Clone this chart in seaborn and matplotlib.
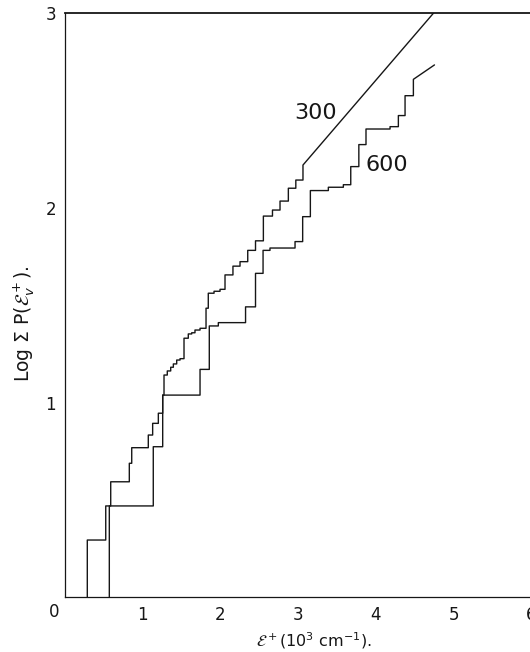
"""Cumulative state count, log sum P(E+_v) against E+ for two temperatures."""

import matplotlib

matplotlib.use("Agg")
import matplotlib.pyplot as plt
import seaborn as sns

# step edges (10^3 cm^-1) and the log value reached at each edge
E_300 = [0.293, 0.530, 0.594, 0.833, 0.864, 1.077, 1.133, 1.206, 1.262, 1.279,
         1.321, 1.365, 1.399, 1.442, 1.485, 1.536, 1.591, 1.635, 1.677, 1.742,
         1.819, 1.848, 1.922, 1.999, 2.063, 2.165, 2.256, 2.355, 2.455, 2.556,
         2.673, 2.770, 2.877, 2.973, 3.065]
LOG_300 = [0.294, 0.469, 0.593, 0.688, 0.768, 0.833, 0.893, 0.945, 1.038, 1.141,
           1.162, 1.181, 1.198, 1.218, 1.225, 1.330, 1.352, 1.358, 1.372, 1.381,
           1.484, 1.561, 1.571, 1.581, 1.655, 1.700, 1.723, 1.781, 1.830, 1.957,
           1.988, 2.034, 2.100, 2.142, 2.219]
TAIL_300 = (4.745, 3.0)  # smooth continuation above the last step

E_600 = [0.576, 1.141, 1.262, 1.742, 1.861, 1.977, 2.327, 2.455, 2.552, 2.641,
         2.963, 3.061, 3.160, 3.391, 3.584, 3.679, 3.783, 3.875, 4.184, 4.291,
         4.377, 4.484]
LOG_600 = [0.469, 0.773, 1.038, 1.170, 1.393, 1.410, 1.491, 1.663, 1.781, 1.793,
           1.826, 1.954, 2.088, 2.105, 2.118, 2.211, 2.324, 2.404, 2.416, 2.473,
           2.575, 2.659]
TAIL_600 = (4.755, 2.733)

X_TICKS = [1, 2, 3, 4, 5, 6]
Y_TICKS = [1, 2, 3]

INK = "#161616"


def step_path(edges, values, tail):
    """Staircase vertices starting from zero, ending with a straight tail."""
    xs, ys = [edges[0]], [0.0]
    prev = 0.0
    for e, v in zip(edges, values):
        xs += [e, e]
        ys += [prev, v]
        prev = v
    xs.append(tail[0])
    ys.append(tail[1])
    return xs, ys


def main() -> None:
    sns.set_style("white")
    plt.rcParams["font.family"] = ["DejaVu Sans"]
    plt.rcParams["mathtext.fontset"] = "dejavusans"

    fig = plt.figure(figsize=(5.30, 6.52), dpi=100)
    ax = fig.add_axes([0.1217, 0.0839, 0.8955, 0.8963])

    for edges, values, tail in ((E_300, LOG_300, TAIL_300), (E_600, LOG_600, TAIL_600)):
        xs, ys = step_path(edges, values, tail)
        sns.lineplot(x=xs, y=ys, estimator=None, sort=False, color=INK,
                     linewidth=1.0, ax=ax)

    ax.set_xlim(0, 6.1)
    ax.set_ylim(0, 3)

    ax.set_xticks(X_TICKS)
    ax.set_xticklabels([str(t) for t in X_TICKS])
    ax.set_yticks(Y_TICKS)
    ax.set_yticklabels([str(t) for t in Y_TICKS])
    ax.tick_params(axis="x", direction="in", length=8.5, width=0.8, pad=6,
                   labelsize=12, colors=INK)
    ax.tick_params(axis="y", direction="in", length=10, width=0.8, pad=6,
                   labelsize=12, colors=INK)

    for side in ("left", "bottom"):
        ax.spines[side].set_color(INK)
        ax.spines[side].set_linewidth(0.9)
    ax.spines["top"].set_color(INK)
    ax.spines["top"].set_linewidth(1.3)
    ax.spines["right"].set_visible(False)

    # shared origin label sits at the corner
    ax.annotate("0", xy=(0, 0), xytext=(-7.5, -10.5), textcoords="offset points",
                ha="center", va="center", fontsize=12, color=INK)

    ax.text(3.233, 2.485, "300", fontsize=16, ha="center", va="center", color=INK)
    ax.text(4.146, 2.220, "600", fontsize=16, ha="center", va="center", color=INK)

    ax.set_xlabel(r"$\mathcal{E}^+$(10$^3$ cm$^{-1}$).", fontsize=11.5, color=INK)
    ax.xaxis.set_label_coords(0.5263, -0.0565)
    ax.set_ylabel(r"Log $\Sigma$ P($\mathcal{E}^+_v$).", fontsize=13.5, color=INK)
    ax.yaxis.label.set_va("center")
    ax.yaxis.set_label_coords(-0.0850, 0.469)

    fig.savefig("out.png", dpi=100)
    plt.close(fig)


if __name__ == "__main__":
    main()
